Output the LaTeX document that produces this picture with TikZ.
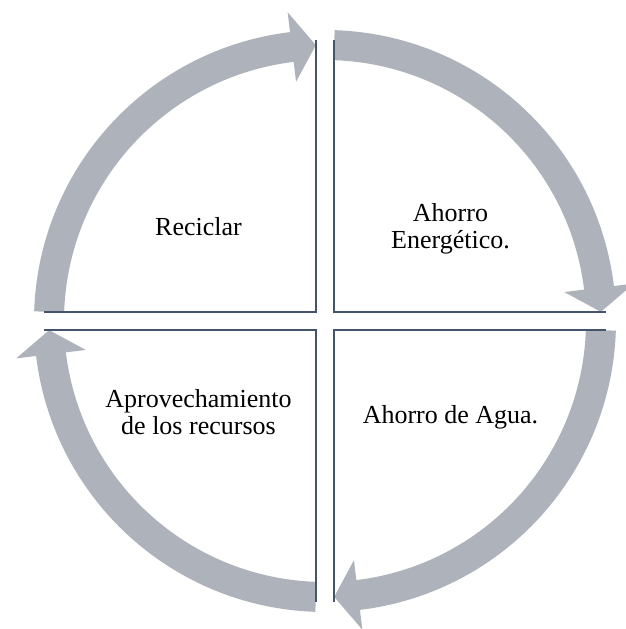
\documentclass[tikz,border=0pt]{standalone}
\usepackage{fontspec}
\setmainfont{Liberation Serif}
\definecolor{ringgray}{RGB}{174,178,186}
\definecolor{edgeblue}{RGB}{68,84,106}

\begin{document}
\begin{tikzpicture}[x=1pt,y=1pt,
  ringarrow/.style={fill=ringgray},
  boxline/.style={draw=edgeblue,line width=2.5pt},
  txt/.style={font=\fontsize{26}{27}\selectfont,align=center,inner sep=0pt}]
\useasboundingbox (-325,-308) rectangle (301,321);
\coordinate (orig) at (0,0);
% ring of four arrows, clockwise
\foreach \a in {178.1,88.1,-1.9,-91.9}{
  \pgfmathsetmacro\tip{\a-86.2}
  \pgfmathsetmacro\base{\a-81.2}
  \fill[ringarrow] (\a:291) arc (\a:\base:291) -- (\base:311) -- (\tip:276)
    -- (\base:241) -- (\base:261) arc (\base:\a:261) -- cycle;
}
% inner edges of the four squares
\foreach \sx/\sy in {-1/1,1/1,1/-1,-1/-1}
  \draw[boxline] (\sx*281,\sy*9) -- (\sx*9,\sy*9) -- (\sx*9,\sy*281);
\node[txt, anchor=base] (reciclar) at (-126.5,85) {Reciclar};
\node[txt] (energia) at (125.5,92) {Ahorro\\Energético.};
\node[txt, anchor=base] (agua) at (125.5,-102) {Ahorro de Agua.};
\node[txt] (recursos) at (-126.5,-91.5) {Aprovechamiento\\de los recursos};
\end{tikzpicture}
\end{document}
